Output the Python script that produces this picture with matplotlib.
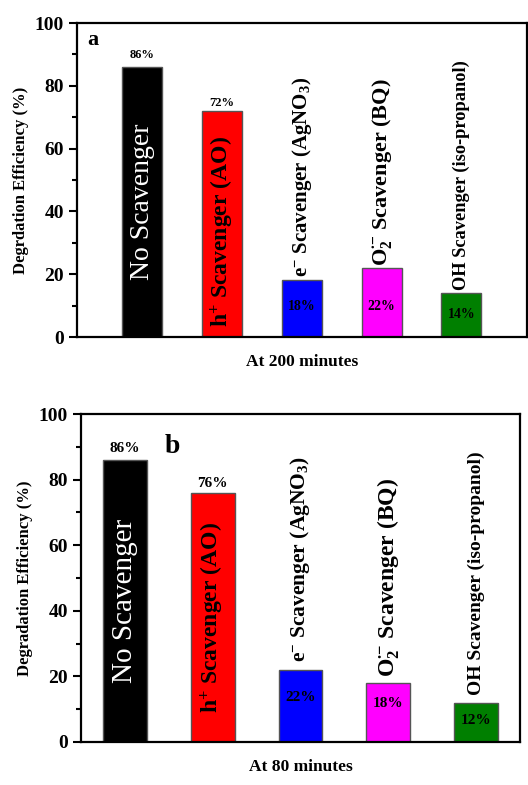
import matplotlib
matplotlib.use('AGG')
import matplotlib.pyplot as plt
from matplotlib.ticker import MultipleLocator

plt.rcParams['font.family'] = ['Liberation Serif', 'DejaVu Serif']
plt.rcParams['font.weight'] = 'bold'
plt.rcParams['mathtext.fontset'] = 'custom'
plt.rcParams['mathtext.rm'] = 'Liberation Serif'
plt.rcParams['mathtext.bf'] = 'Liberation Serif:bold'
plt.rcParams['mathtext.default'] = 'bf'

# data
scavengers = ['No Scavenger',
              r'h$^{+}$ Scavenger (AO)',
              r'e$^{-}$ Scavenger (AgNO$_{3}$)',
              r'O$_{2}^{\bullet{-}}$ Scavenger (BQ)',
              'OH Scavenger (iso-propanol)']
colors = ['black', '#ff0000', '#0000ff', '#ff00ff', '#007f00']
eff_200 = [86, 72, 18, 22, 14]
eff_80 = [86, 76, 22, 18, 12]

fig = plt.figure(figsize=(5.28, 7.85), dpi=100)
ax_a = fig.add_axes([0.1458, 0.5707, 0.852, 0.4])
ax_b = fig.add_axes([0.1534, 0.0548, 0.8314, 0.4178])


def draw_panel(ax, vals, xlim, pct_y, pct_size, name_y, name_sizes, ylabel, xlabel):
    x = list(range(1, len(vals) + 1))
    ax.bar(x, vals, width=0.5, color=colors, edgecolor='#555555', linewidth=1)
    ax.set_xlim(*xlim)
    ax.set_ylim(0, 100)
    ax.set_xticks([])
    ax.yaxis.set_major_locator(MultipleLocator(20))
    ax.yaxis.set_minor_locator(MultipleLocator(10))
    ax.tick_params(axis='y', which='both', direction='out', width=1.5, labelsize=14)
    ax.tick_params(axis='y', which='major', length=6)
    ax.tick_params(axis='y', which='minor', length=3.5)
    for s in ax.spines.values():
        s.set_linewidth(1.6)
    ax.set_ylabel(ylabel, fontsize=12, fontweight='bold')
    ax.set_xlabel(xlabel, fontsize=12.5, fontweight='bold', labelpad=12)

    for xi, v, py in zip(x, vals, pct_y):
        ax.text(xi, py, '%d%%' % v, ha='center', va='center',
                fontsize=pct_size[0] if v > 50 else pct_size[1], fontweight='bold')

    for i, (xi, lab) in enumerate(zip(x, scavengers)):
        if i == 0:
            ax.text(xi, name_y[i], lab, rotation=90, ha='center', va='bottom',
                    color='white', fontsize=name_sizes[i], fontweight='normal')
        else:
            ax.text(xi, name_y[i], lab, rotation=90, ha='center', va='bottom',
                    color='black', fontsize=name_sizes[i], fontweight='bold')


draw_panel(ax_a, eff_200, (0.18, 5.82), [89.8, 74.5, 9.6, 9.6, 7.3], (9, 10),
           [18.2, 3.2, 19.0, 22.6, 15.0], [20, 17, 15, 16, 13.2],
           'Degrdation Efficiency (%)', 'At 200 minutes')
ax_a.text(0.022, 0.945, 'a', transform=ax_a.transAxes, fontsize=16,
          fontweight='bold', va='center')

draw_panel(ax_b, eff_80, (0.5, 5.5), [89.6, 78.7, 13.7, 11.6, 6.7], (11, 11),
           [18.0, 8.8, 24.4, 19.8, 14.3], [21, 17, 15.5, 17, 14],
           'Degradation Efficiency (%)', 'At 80 minutes')
ax_b.text(0.19, 0.9, 'b', transform=ax_b.transAxes, fontsize=20,
          fontweight='bold', va='center')

fig.savefig('out.png', dpi=100)
